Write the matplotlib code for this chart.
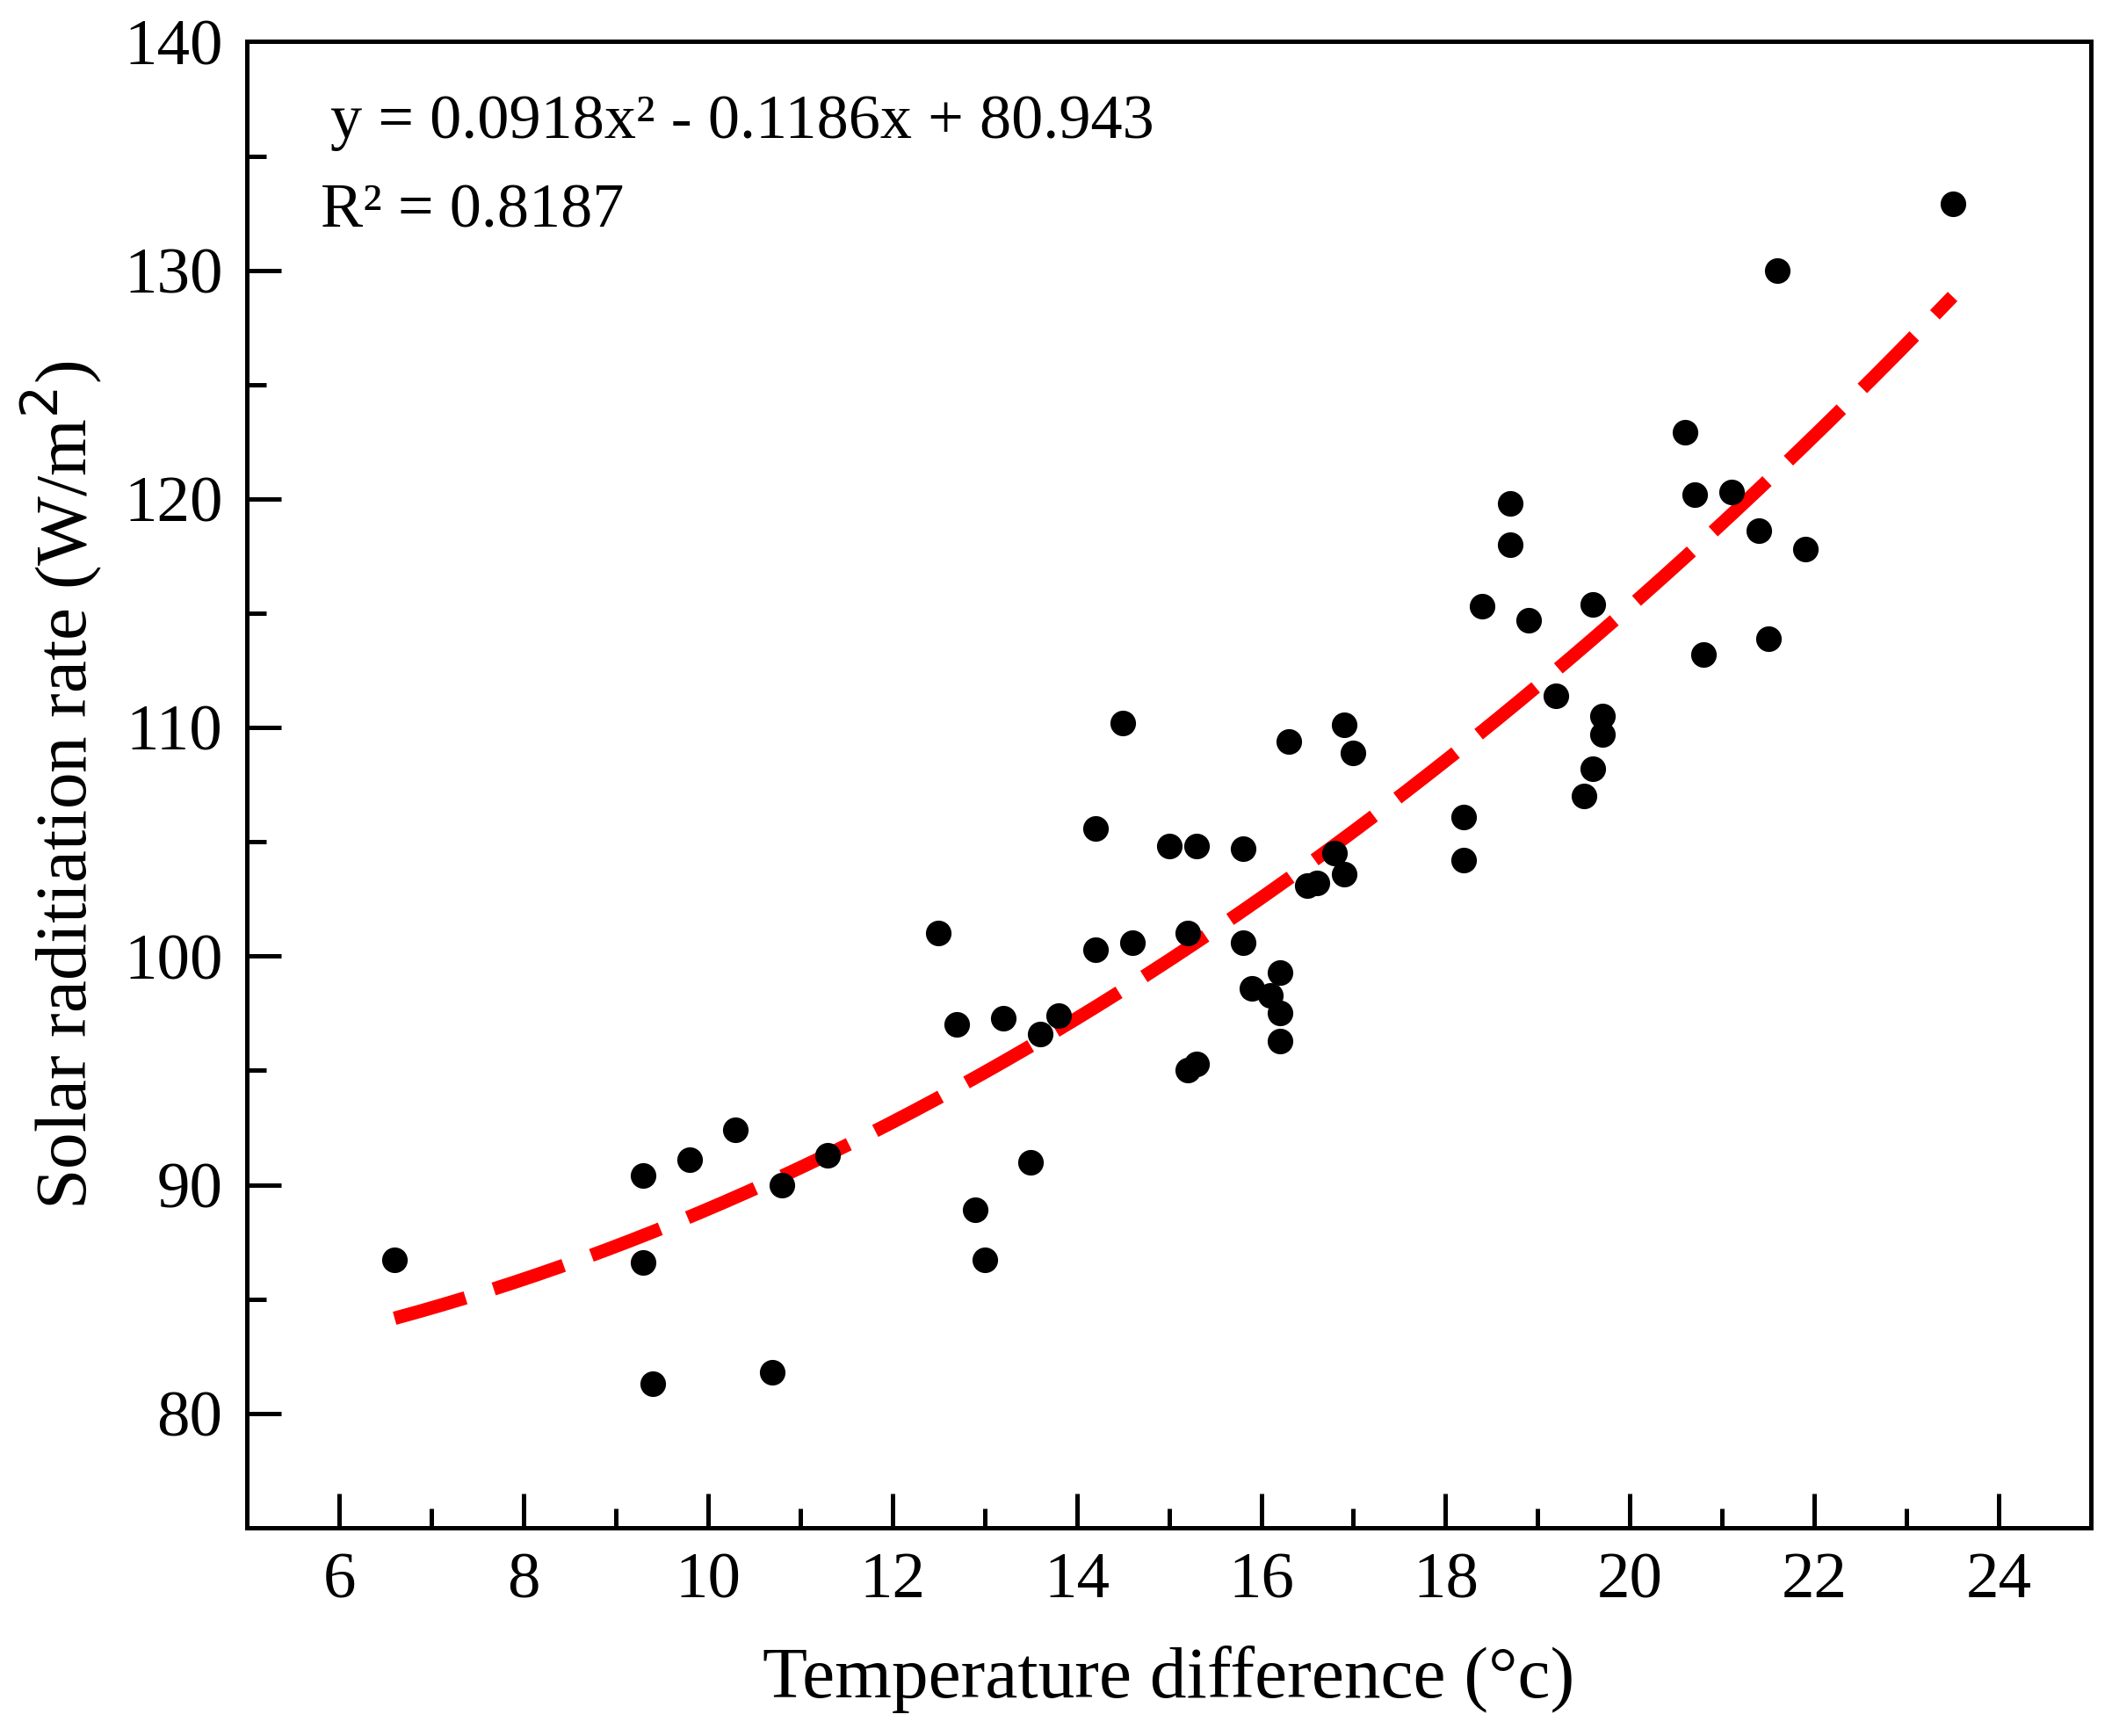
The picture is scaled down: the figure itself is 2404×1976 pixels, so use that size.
import numpy as np
import matplotlib.pyplot as plt
from matplotlib.ticker import MultipleLocator

# scatter data
temp_diff = [6.6, 9.3, 9.3, 9.4, 9.8, 10.3, 10.8, 10.7, 11.3, 12.5, 12.7, 12.9, 13.0,
             13.2, 13.5, 13.6, 13.8, 14.2, 14.2, 14.5, 14.6, 15.0, 15.2, 15.2, 15.3,
             15.3, 15.8, 15.8, 15.9, 16.1, 16.2, 16.2, 16.2, 16.3, 16.5, 16.6, 16.8,
             16.9, 16.9, 17.0, 18.2, 18.2, 18.4, 18.7, 18.7, 18.9, 19.2, 19.5, 19.6,
             19.6, 19.7, 19.7, 20.6, 20.7, 20.8, 21.1, 21.4, 21.5, 21.6, 21.9, 23.5]
radiation = [86.7, 90.4, 86.6, 81.3, 91.1, 92.4, 90.0, 81.8, 91.3, 101.0, 97.0, 88.9, 86.7,
             97.3, 91.0, 96.6, 97.4, 105.6, 100.3, 110.2, 100.6, 104.8, 101.0, 95.0, 104.8,
             95.3, 104.7, 100.6, 98.6, 98.3, 99.3, 97.5, 96.3, 109.4, 103.1, 103.2, 104.5,
             110.1, 103.6, 108.9, 106.1, 104.2, 115.3, 119.8, 118.0, 114.7, 111.4, 107.0, 115.4,
             108.2, 110.5, 109.7, 122.9, 120.2, 113.2, 120.3, 118.6, 113.9, 130.0, 117.8, 132.9]

# fitted trend from the chart annotation
fit_coef = [0.0918, -0.1186, 80.943]

plt.rcParams["font.family"] = "Liberation Serif"

fig = plt.figure(figsize=(12.02, 9.88), dpi=200)
ax = fig.add_axes([0.117, 0.12, 0.873, 0.856])

xs = np.linspace(min(temp_diff), max(temp_diff), 200)
ax.plot(xs, np.polyval(fit_coef, xs), color="#ff0000", lw=5.5, ls=(0, (5.5, 2.2)), zorder=1)
ax.scatter(temp_diff, radiation, s=90, color="black", zorder=2)

ax.set_xlim(5, 25)
ax.set_ylim(75, 140)
ax.xaxis.set_major_locator(MultipleLocator(2))
ax.xaxis.set_minor_locator(MultipleLocator(1))
ax.yaxis.set_minor_locator(MultipleLocator(5))
ax.set_yticks([80, 90, 100, 110, 120, 130, 140])
ax.tick_params(which="both", direction="in", labelsize=27, width=1.8)
ax.tick_params(which="major", length=14, pad=10)
ax.tick_params(which="minor", length=8)
for s in ax.spines.values():
    s.set_linewidth(1.8)

ax.set_xlabel("Temperature difference (°c)", fontsize=30, labelpad=14)
ax.set_ylabel("Solar raditiation rate (W/m$^2$)", fontsize=30, labelpad=8)

ax.text(0.045, 0.965, "y = 0.0918x² - 0.1186x + 80.943", transform=ax.transAxes,
        fontsize=26, va="top")
ax.text(0.04, 0.905, "R² = 0.8187", transform=ax.transAxes, fontsize=26, va="top")

fig.savefig("out.png", dpi=200)
